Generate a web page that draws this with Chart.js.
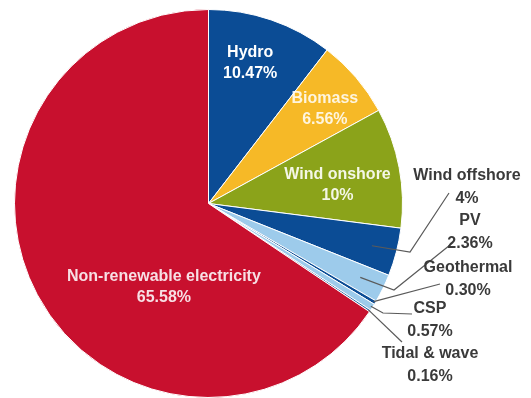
<!DOCTYPE html>
<html>
<head>
<meta charset="utf-8">
<script src="https://cdn.jsdelivr.net/npm/chart.js@4"></script>
<style>
    html, body { margin: 0; padding: 0; background: #fff; }
    #wrap { width: 531px; height: 398px; position: relative; }
</style>
</head>
<body>
<div id="wrap"><canvas id="mixChart"></canvas></div>
<script>
const sources = ['Hydro', 'Biomass', 'Wind onshore', 'Wind offshore', 'PV', 'Geothermal', 'CSP', 'Tidal & wave', 'Non-renewable electricity'];
const shares = [10.47, 6.56, 10, 4, 2.36, 0.30, 0.57, 0.16, 65.58];
const colours = ['#0b4c95', '#f6b927', '#8ba31a', '#0b4c95', '#9dcbeb', '#0b4c95', '#9dcbeb', '#2a6aa8', '#c8102e'];

// inside labels: first line position as fraction of the radius from the centre
const insideLabels = {
    0: { fx: 0.215, fy: -0.78, color: '#ffffff' },
    1: { fx: 0.60, fy: -0.54, color: 'rgba(255,255,255,0.85)' },
    2: { fx: 0.665, fy: -0.15, color: '#f4f7e6' },
    8: { fx: -0.23, fy: 0.375, color: '#f7dfe4' }
};

// outside labels: leader line starts inside the slice (fraction of radius),
// optional elbow, end point and text position
const outsideLabels = {
    3: { r: 0.87, elbow: [410, 252], end: [449, 193], text: [467, 176] },
    4: { r: 0.87, elbow: [394, 290], end: [450, 245], text: [470, 221] },
    5: { r: 0.99, elbow: null, end: [440, 284], text: [468, 268] },
    6: { r: 0.99, elbow: [383, 313], end: [412, 314], text: [430, 309] },
    7: { r: 0.99, elbow: null, end: [402, 342], text: [430, 354] }
};

function pct(v) {
    return (Number.isInteger(v) ? String(v) : v.toFixed(2)) + '%';
}

const sliceLabels = {
    id: 'sliceLabels',
    afterDatasetsDraw(chart) {
        const c = chart.ctx;
        const arcs = chart.getDatasetMeta(0).data;
        c.save();
        c.font = 'bold 16px "Liberation Sans", Arial, sans-serif';
        c.textAlign = 'center';
        c.textBaseline = 'middle';

        arcs.forEach(function(arc, i) {
            const R = arc.outerRadius;
            if (insideLabels[i]) {
                const l = insideLabels[i];
                const x = arc.x + l.fx * R;
                const y = arc.y + l.fy * R;
                c.fillStyle = l.color;
                c.fillText(sources[i], x, y);
                c.fillText(pct(shares[i]), x, y + 21);
            }
            if (outsideLabels[i]) {
                const l = outsideLabels[i];
                const a = (arc.startAngle + arc.endAngle) / 2;
                c.strokeStyle = '#5a5a5a';
                c.lineWidth = 1.2;
                c.beginPath();
                c.moveTo(arc.x + Math.cos(a) * R * l.r, arc.y + Math.sin(a) * R * l.r);
                if (l.elbow) c.lineTo(l.elbow[0], l.elbow[1]);
                c.lineTo(l.end[0], l.end[1]);
                c.stroke();
                c.fillStyle = '#3a3a3a';
                c.fillText(sources[i], l.text[0], l.text[1]);
                c.fillText(pct(shares[i]), l.text[0], l.text[1] + 23);
            }
        });
        c.restore();
    }
};

const ctx = document.getElementById('mixChart').getContext('2d');
const mixChart = new Chart(ctx, {
    type: 'pie',
    data: {
        labels: sources,
        datasets: [{
            data: shares,
            backgroundColor: colours,
            borderColor: '#ffffff',
            borderWidth: 1
        }]
    },
    options: {
        responsive: true,
        maintainAspectRatio: false,
        animation: false,
        layout: {
            padding: { left: 14, top: 9, right: 128, bottom: 0 }
        },
        plugins: {
            legend: { display: false },
            tooltip: { enabled: false }
        }
    },
    plugins: [sliceLabels]
});
</script>
</body>
</html>
